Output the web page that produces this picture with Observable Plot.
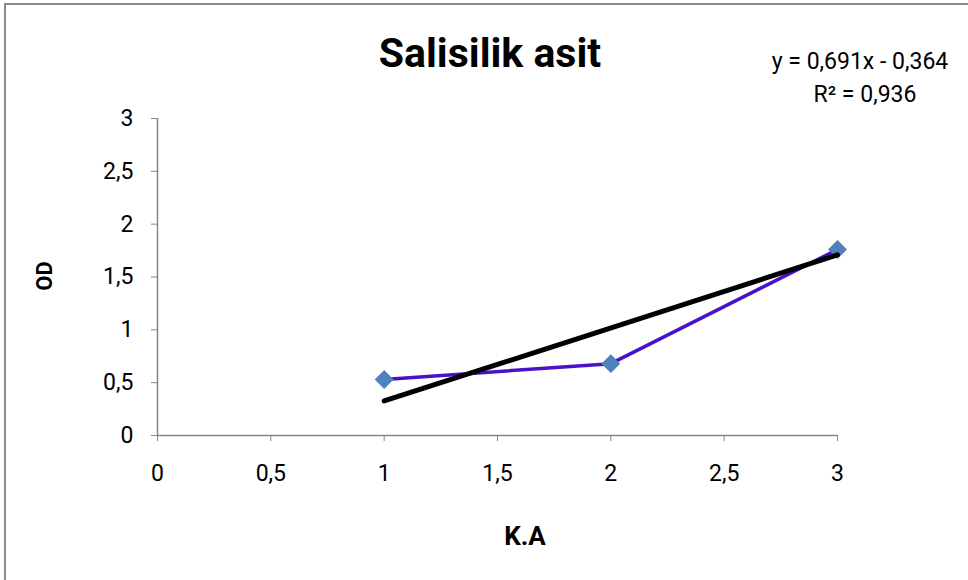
<!DOCTYPE html>
<html><head><meta charset="utf-8">
<script src="https://cdn.jsdelivr.net/npm/d3@7"></script>
<script src="https://cdn.jsdelivr.net/npm/@observablehq/plot@0.6"></script>
<style>
body{margin:0;background:#fff;overflow:hidden;font-family:"Roboto",sans-serif;}
#wrap{position:relative;width:968px;height:580px;}
#frame{position:absolute;left:4px;top:3px;width:1000px;height:700px;border:2px solid #8c8c8c;box-sizing:border-box;}
.t{position:absolute;white-space:nowrap;color:#000;}
#title{left:490px;top:29px;transform:translateX(-50%);font-weight:bold;font-size:41px;}
#eq1{left:860px;top:48px;transform:translateX(-50%);font-size:23px;}
#eq2{left:865px;top:81px;transform:translateX(-50%);font-size:23px;}
#xl{left:525px;top:521px;transform:translateX(-50%);font-weight:bold;font-size:26px;}
#yl{left:44px;top:276px;transform:translate(-50%,-50%) rotate(-90deg);font-weight:bold;font-size:22px;}
#chart{position:absolute;left:0;top:0;}
#chart svg g[aria-label="x-axis tick label"] text,#chart svg g[aria-label="y-axis tick label"] text{font-size:23px;}
</style></head>
<body>
<div id="wrap">
<div id="chart"></div>
<div id="frame"></div>
<div class="t" id="title">Salisilik asit</div>
<div class="t" id="eq1">y = 0,691x - 0,364</div>
<div class="t" id="eq2">R² = 0,936</div>
<div class="t" id="xl">K.A</div>
<div class="t" id="yl">OD</div>
</div>
<script>
const xValues = [1, 2, 3];
const odValues = [0.53, 0.68, 1.76];
const slope = 0.691, intercept = -0.364;
const trendX = [1, 3];
const ticks = [0, 0.5, 1, 1.5, 2, 2.5, 3];

const data = xValues.map((x, i) => ({x, y: odValues[i]}));
const trend = trendX.map(x => ({x, y: slope * x + intercept}));
const fmt = d => String(d).replace(".", ",");

const plot = Plot.plot({
  width: 968, height: 580,
  marginLeft: 157, marginRight: 131, marginTop: 118, marginBottom: 145,
  style: {fontFamily: '"Roboto",sans-serif', fontSize: "23px", color: "#000", background: "transparent"},
  x: {domain: [0, 3]},
  y: {domain: [0, 3]},
  marks: [
    Plot.ruleY([0], {stroke: "#868686", strokeWidth: 1.5}),
    Plot.ruleX([0], {stroke: "#868686", strokeWidth: 1.5}),
    Plot.axisX({ticks, tickFormat: fmt, tickSize: 6, tickPadding: 23, stroke: "#868686", label: null, fontSize: 23}),
    Plot.axisY({ticks, tickFormat: fmt, tickSize: 6, tickPadding: 18, stroke: "#868686", label: null, fontSize: 23}),
    Plot.line(data, {x: "x", y: "y", stroke: "#4a12c8", strokeWidth: 3.5}),
    Plot.dot(data, {x: "x", y: "y", symbol: "diamond2", r: 8.5, fill: "#4f81bd", stroke: "none"}),
    Plot.line(trend, {x: "x", y: "y", stroke: "#000", strokeWidth: 5})
  ]
});
document.getElementById("chart").appendChild(plot);
</script>
</body></html>
